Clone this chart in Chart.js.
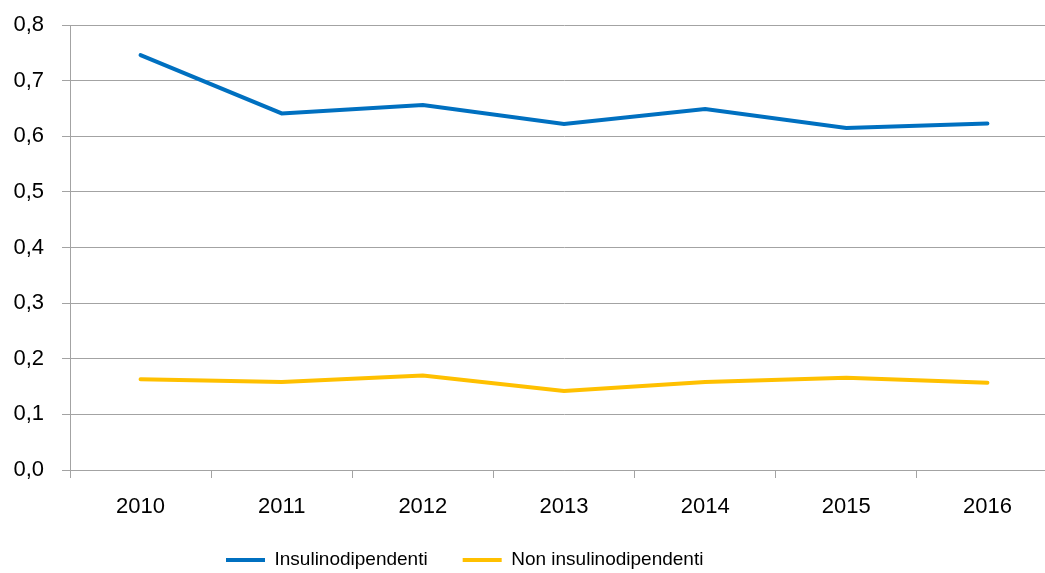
<!DOCTYPE html>
<html>
<head>
<meta charset="utf-8">
<script src="https://cdn.jsdelivr.net/npm/chart.js@4/dist/chart.umd.min.js"></script>
<style>
  html, body { margin: 0; padding: 0; overflow: hidden; background: #fff; }
  #wrap { width: 1045px; height: 573px; overflow: hidden; position: relative; }
  canvas { display: block; }
</style>
</head>
<body>
<div id="wrap"><canvas id="c" width="1058" height="573"></canvas></div>
<script>
const years = ['2010', '2011', '2012', '2013', '2014', '2015', '2016'];
const insulinodipendenti = [0.746, 0.641, 0.656, 0.622, 0.649, 0.615, 0.623];
const nonInsulinodipendenti = [0.163, 0.158, 0.170, 0.142, 0.158, 0.166, 0.157];
const seriesNames = ['Insulinodipendenti', 'Non insulinodipendenti'];
const yMin = 0, yMax = 0.8, yStep = 0.1;

const FONT = '"Liberation Sans", Arial, sans-serif';
const GRID = '#a3a3a3';
const PLOT_BOTTOM = 470;

const legendPlacer = {
  id: 'legendPlacer',
  afterLayout(chart) {
    const lg = chart.legend;
    if (lg) {
      const pad = lg.options.labels.padding;
      const fs = lg.options.labels.font.size;
      const h = lg.bottom - lg.top;
      const w = lg.right - lg.left;
      lg.left = 226 - pad;
      lg.right = lg.left + w;
      lg.top = 560 - pad - fs / 2;
      lg.bottom = lg.top + h;
    }
    const xs = chart.scales.x;
    xs.bottom = chart.height;
    xs.height = xs.bottom - xs.top;
  }
};

new Chart(document.getElementById('c'), {
  type: 'line',
  data: {
    labels: years,
    datasets: [
      {
        label: seriesNames[0],
        data: insulinodipendenti,
        borderColor: '#0070C0',
        backgroundColor: '#0070C0',
        borderWidth: 4,
        pointRadius: 0,
        tension: 0,
        borderCapStyle: 'round'
      },
      {
        label: seriesNames[1],
        data: nonInsulinodipendenti,
        borderColor: '#FFC000',
        backgroundColor: '#FFC000',
        borderWidth: 4,
        pointRadius: 0,
        tension: 0,
        borderCapStyle: 'round'
      }
    ]
  },
  options: {
    responsive: false,
    animation: false,
    devicePixelRatio: 1,
    layout: { padding: { top: 25, left: 0, right: 0, bottom: 0 } },
    plugins: {
      legend: {
        position: 'bottom',
        align: 'start',
        labels: {
          padding: 35,
          boxWidth: 39,
          boxHeight: 4,
          color: '#000',
          font: { family: FONT, size: 19 },
          generateLabels(chart) {
            return chart.data.datasets.map((ds, i) => ({
              text: ds.label,
              fillStyle: ds.borderColor,
              strokeStyle: ds.borderColor,
              lineWidth: 0,
              hidden: false,
              datasetIndex: i,
              fontColor: '#000'
            }));
          }
        }
      },
      tooltip: { enabled: false }
    },
    scales: {
      x: {
        offset: true,
        grid: {
          offset: true,
          drawOnChartArea: false,
          drawTicks: true,
          tickLength: 8,
          color: GRID,
          lineWidth: 1
        },
        border: { display: true, color: GRID, width: 1 },
        ticks: {
          color: '#000',
          font: { family: FONT, size: 22 },
          padding: 16,
          maxRotation: 0,
          autoSkip: false
        },
        afterFit(scale) {
          const lg = scale.chart.legend;
          const lh = lg ? lg.height : 0;
          scale.height = Math.max(0, scale.chart.height - PLOT_BOTTOM - lh);
        }
      },
      y: {
        min: yMin,
        max: yMax,
        grid: {
          color: GRID,
          lineWidth: 1,
          tickLength: 8,
          drawTicks: true
        },
        border: { display: true, color: GRID, width: 1 },
        ticks: {
          stepSize: yStep,
          color: '#000',
          font: { family: FONT, size: 22 },
          padding: 18,
          callback: (v) => Number(v).toFixed(1).replace('.', ',')
        },
        afterFit(scale) {
          scale.width = 70;
          scale.paddingTop = 0;
          scale.paddingBottom = 0;
        }
      }
    }
  },
  plugins: [legendPlacer]
});
</script>
</body>
</html>
